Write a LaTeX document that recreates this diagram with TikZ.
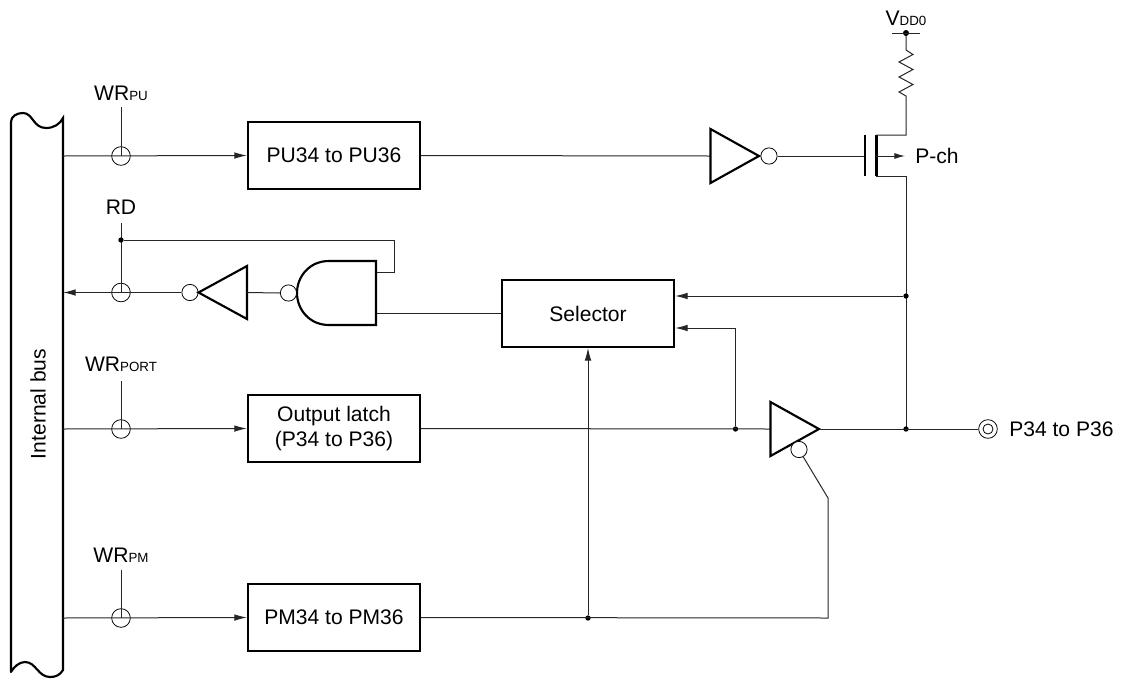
\documentclass[tikz,border=0pt]{standalone}
\usepackage{fontspec}
\setmainfont{Liberation Sans}
\usetikzlibrary{arrows.meta}
\newcommand{\lbl}{\fontsize{15.8}{19}\selectfont}
\newcommand{\sbl}[1]{{\fontsize{10}{12}\selectfont #1}}
\tikzset{
  thin wire/.style={line width=0.75pt,black!85},
  heavy/.style={line width=1.6pt,black,line join=miter},
  box/.style={draw,line width=1.6pt,fill=white,inner sep=0pt,font=\lbl,align=center},
  bubble/.style={circle,draw,line width=0.6pt,fill=white,minimum size=12.2pt,inner sep=0pt},
  cross/.style={circle,draw,line width=0.6pt,minimum size=14pt,inner sep=0pt},
  dotn/.style={circle,fill=black,minimum size=4pt,inner sep=0pt},
  txt/.style={font=\lbl,inner sep=0pt},
  arr/.style={thin wire,-{Latex[length=9.5pt,width=5pt]}},
  arrs/.style={thin wire,-{Latex[length=8pt,width=4.5pt]}},
}
\begin{document}
\begin{tikzpicture}[x=0.75pt,y=-0.75pt]
\useasboundingbox (0,0) rectangle (1122,679);
% bus
\draw[heavy,line cap=round] (11,672) -- (11,122) .. controls (11,116) and (17,113) .. (23,113)
  .. controls (33,113) and (33,128) .. (46,128) .. controls (54,128) and (60,124) .. (63,118)
  -- (63,670) .. controls (60,675) and (56,677) .. (50,677) .. controls (38,677) and (36,662) .. (25,662)
  .. controls (19,662) and (14,667) .. (11,672);
\node[txt,rotate=90] (bus) at (38,404) {Internal bus};
\coordinate (b1) at (63,156);
\coordinate (b2) at (63,292.5);
\coordinate (b3) at (63,429);
\coordinate (b4) at (63,618);
% boxes
\node[box,minimum width=129pt,minimum height=50pt] (pu) at (334,155.5) {PU34 to PU36};
\node[box,minimum width=129pt,minimum height=50pt] (ol) at (334,428.5) {Output latch\\(P34 to P36)};
\node[box,minimum width=129pt,minimum height=50pt] (pm) at (334,617.5) {PM34 to PM36};
\node[box,minimum width=129pt,minimum height=50pt] (sel) at (588,313.5) {Selector};
% crossings
\node[cross] (c1) at (121,156) {};
\node[cross] (c2) at (121,292.5) {};
\node[cross] (c3) at (121,429) {};
\node[cross] (c4) at (121,618) {};
\node[txt] (wrpu) at (121,93) {WR\sbl{PU}};
\node[txt] (rd) at (121,207) {RD};
\node[txt] (wrport) at (121,364) {WR\sbl{PORT}};
\node[txt] (wrpm) at (121,555) {WR\sbl{PM}};
\coordinate (t1) at (121,107);
\coordinate (t2) at (121,223);
\coordinate (t3) at (121,381);
\coordinate (t4) at (121,570);
\draw[thin wire] (t1) -- (c1.center);
\draw[thin wire] (t2) -- (c2.center);
\draw[thin wire] (t3) -- (c3.center);
\draw[thin wire] (t4) -- (c4.center);
\draw[arr] (b1) -- (pu.west);
\draw[arr] (b3) -- (ol.west);
\draw[arr] (b4) -- (pm.west);
% top inverter
\coordinate (i1a) at (710.5,129); \coordinate (i1b) at (710.5,183); \coordinate (i1c) at (759,156);
\node[bubble] (bb1) at (769,156) {};
\draw[thin wire] (pu.east) -- (710,156);
\draw[heavy] (i1a) -- (i1c) -- (i1b) -- cycle;
% MOS
\coordinate (g) at (865,156);
\coordinate (ch) at (876,156);
\draw[thin wire] (bb1.east) -- (g);
\draw[heavy] (865,135) -- (865,176);
\draw[heavy] (876.5,135) -- (876.5,176);
\coordinate (rb) at (906,96);
\coordinate (rt) at (906,50);
\coordinate (jt) at (906,296);
\coordinate (jo) at (906,429);
\draw[thin wire] (876,135) -- (906,135) -- (rb) -- (899,92) -- (913,84.5) -- (899,77) -- (913,69.5) -- (899,62) -- (913,54.5) -- (rt) -- (906,33);
\draw[thin wire] (876,176) -- (906,176) -- (jo);
\draw[arrs] (ch) -- (905,156);
\node[txt,anchor=west] (pch) at (915,156) {P-ch};
\node[dotn,minimum size=4.5pt] (vd) at (906,33) {};
\draw[thin wire] (892,33) -- (920,33);
\node[txt] (vdd) at (906,18) {V\sbl{DD0}};
% RD return
\node[dotn] (drd) at (121,240) {};
\draw[thin wire] (drd) -- (394,240) -- (394,272.5) -- (376,272.5);
% nand
\draw[thin wire] (376,313) -- (sel.west |- 0,313);
\draw[heavy,fill=white] (376,261) -- (329,261) .. controls (309,261) and (297,277) .. (297,293) .. controls (297,309) and (309,325) .. (329,325) -- (376,325) -- cycle;
\node[bubble] (bb2) at (288.5,293) {};
\node[bubble] (bb3) at (190,292.5) {};
\coordinate (i2a) at (247,266); \coordinate (i2b) at (247,319); \coordinate (i2c) at (198.5,292.5);
\draw[heavy] (i2a) -- (i2c) -- (i2b) -- cycle;
\draw[thin wire] (247,292.5) -- (bb2.west);
\draw[thin wire] (bb3.west) -- (c2.east);
\draw[arr] (c2.east) -- (b2);
% selector inputs
\node[dotn] (d906a) at (jt) {};
\node[dotn] (d906b) at (jo) {};
\node[dotn] (d735) at (735.5,429) {};
\node[dotn] (d588) at (588,618) {};
\draw[arr] (d906a) -- (sel.east |- d906a);
\draw[arr] (d735) -- (735.5,328) -- (sel.east |- 0,328);
\draw[arr] (d588) -- (sel.south);
% buffer
\coordinate (i3a) at (770.5,402); \coordinate (i3b) at (770.5,456); \coordinate (i3c) at (819,429);
\draw[thin wire] (ol.east) -- (770,429);
\draw[heavy] (i3a) -- (i3c) -- (i3b) -- cycle;
\node[bubble] (bb4) at (799,449.5) {};
\node[circle,draw,line width=0.6pt,minimum size=14pt,inner sep=0pt] (term) at (988,429) {};
\node[circle,draw,line width=0.6pt,minimum size=7.5pt,inner sep=0pt] (termi) at (988,429) {};
\draw[thin wire] (i3c) -- (term.west);
\node[txt,anchor=west] (pout) at (1009,429) {P34 to P36};
\draw[thin wire] (pm.east) -- (828,618) -- (828,498) -- (bb4.-60);
\end{tikzpicture}
\end{document}
